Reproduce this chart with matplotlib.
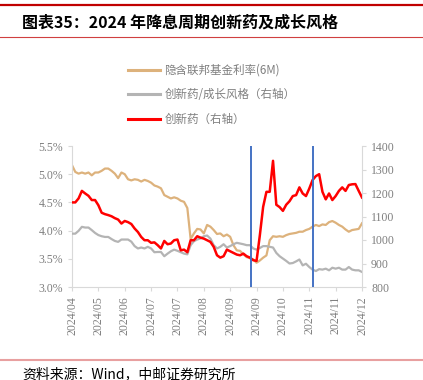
import numpy as np
import matplotlib
matplotlib.use("Agg")
import matplotlib.pyplot as plt
from matplotlib.lines import Line2D

plt.rcParams['font.family'] = ['Noto Sans CJK SC', 'DejaVu Sans']

# x tick labels (category axis, one label every 8 points)
tick_labels = ["2024/04", "2024/05", "2024/06", "2024/07", "2024/07", "2024/08",
               "2024/09", "2024/09", "2024/10", "2024/11", "2024/11", "2024/12"]

# implied fed funds rate (6M), %  -- left axis
fed_rate = [5.16, 5.04, 5.01, 5.03, 5.01, 5.03, 4.98, 5.03, 5.03, 5.06,
            5.10, 5.10, 5.06, 5.01, 4.93, 5.03, 5.00, 4.91, 4.89, 4.91,
            4.90, 4.87, 4.90, 4.88, 4.85, 4.80, 4.78, 4.75, 4.63, 4.60,
            4.57, 4.59, 4.57, 4.53, 4.51, 4.40, 3.85, 3.95, 4.03, 4.02,
            3.95, 4.10, 4.07, 4.01, 3.94, 3.95, 3.90, 3.93, 3.89, 3.74,
            3.65, 3.64, 3.58, 3.53, 3.51, 3.49, 3.43, 3.47, 3.52, 3.56,
            3.83, 3.90, 3.89, 3.90, 3.89, 3.92, 3.94, 3.95, 3.96, 3.98,
            3.98, 4.01, 4.03, 4.07, 4.10, 4.08, 4.11, 4.10, 4.15, 4.17,
            4.14, 4.10, 4.07, 4.02, 3.98, 4.01, 4.02, 4.03, 4.13]

# innovative drug / growth style ratio -- right axis
ratio = [1027, 1027, 1039, 1056, 1053, 1053, 1042, 1030, 1021, 1016,
         1013, 1013, 1004, 996, 992, 1002, 1002, 1002, 993, 974,
         964, 968, 964, 971, 964, 948, 949, 949, 931, 942,
         952, 959, 954, 948, 942, 939, 978, 995, 1002, 1007,
         1016, 1019, 1006, 978, 964, 971, 982, 968, 974, 982,
         988, 985, 982, 978, 978, 964, 959, 966, 974, 974,
         971, 968, 945, 931, 921, 911, 900, 902, 909, 917,
         892, 899, 885, 874, 868, 876, 874, 878, 871, 882,
         878, 882, 874, 874, 885, 874, 871, 871, 864]

# innovative drug index -- right axis
drug = [1160, 1160, 1177, 1209, 1198, 1188, 1170, 1170, 1148, 1116,
        1110, 1106, 1101, 1093, 1087, 1070, 1081, 1076, 1068, 1049,
        1034, 1013, 999, 999, 988, 990, 978, 964, 996, 982,
        985, 999, 1002, 956, 959, 948, 999, 999, 1016, 1010,
        1006, 999, 992, 971, 935, 925, 931, 959, 952, 945,
        938, 935, 942, 931, 925, 914, 911, 1020, 1141, 1205,
        1205, 1337, 1150, 1140, 1124, 1150, 1165, 1187, 1191, 1224,
        1198, 1187, 1219, 1255, 1272, 1280, 1205, 1173, 1198, 1170,
        1187, 1209, 1224, 1209, 1234, 1237, 1238, 1209, 1181]

# rate-cut dates (position on the category axis)
cut_dates = [54.2, 73.2]

n = len(fed_rate)
x = np.arange(n)

fig = plt.figure(figsize=(4.23, 3.80), dpi=100)
ax = fig.add_axes([72/423, 1-287/380, 290/423, 141/380])
ax2 = ax.twinx()

c_tan = "#DDB27C"
c_gray = "#B4B4B4"
c_red = "#FF0000"
c_axis = "#D9D9D9"
c_text = "#7F7F7F"

l1, = ax.plot(x, fed_rate, color=c_tan, lw=1.6, label="隐含联邦基金利率(6M)")
l2, = ax2.plot(x, ratio, color=c_gray, lw=1.6, label="创新药/成长风格（右轴）")
l3, = ax2.plot(x, drug, color=c_red, lw=1.8, label="创新药（右轴）")
for d in cut_dates:
    ax2.axvline(d, color="#4472C4", lw=1.4)

ax.set_xlim(0, n - 1)
ax.set_ylim(3.0, 5.5)
ax2.set_ylim(800, 1400)
ax.set_yticks(np.arange(3.0, 5.51, 0.5))
ax.set_yticklabels([f"{v:.1f}%" for v in np.arange(3.0, 5.51, 0.5)])
ax2.set_yticks(np.arange(800, 1401, 100))
ax.set_xticks(np.arange(0, n, 8))
ax.set_xticklabels(tick_labels, rotation=90)

for a in (ax, ax2):
    for s in a.spines.values():
        s.set_color(c_axis)
    a.spines['top'].set_visible(False)
    a.tick_params(colors=c_axis, labelcolor=c_text, length=3, width=0.8, labelsize=8.5)
    for lab in a.get_xticklabels() + a.get_yticklabels():
        lab.set_family("Liberation Serif")
ax.spines['right'].set_visible(False)
ax2.spines['left'].set_visible(False)
ax2.spines['bottom'].set_visible(False)

leg = ax.legend(handles=[l1, l2, l3], loc="upper left",
                bbox_to_anchor=(128/423, 1-64/380), bbox_transform=fig.transFigure,
                frameon=False, borderpad=0, borderaxespad=0, handlelength=2.8,
                handletextpad=0.35, labelspacing=0.98, prop={"size": 8.3})
for t in leg.get_texts():
    t.set_color(c_text)
for h in leg.get_lines():
    h.set_linewidth(2.2)

# header / footer decorations
fig.add_artist(Line2D([0, 1], [1-5/380, 1-5/380], color="#C00000", lw=1.6))
fig.add_artist(Line2D([0, 1], [1-37/380, 1-37/380], color="#D04040", lw=0.8))
fig.add_artist(Line2D([0, 1], [1-360/380, 1-360/380], color="#E8A0A0", lw=1.5))
fig.text(22/423, 1-23/380, "图表35：2024 年降息周期创新药及成长风格",
         fontsize=11.5, fontweight="bold", va="center", ha="left")
fig.text(22/423, 1-374/380, "资料来源：Wind，中邮证券研究所",
         fontsize=10, va="center", ha="left")

fig.savefig("out.png", dpi=100)
